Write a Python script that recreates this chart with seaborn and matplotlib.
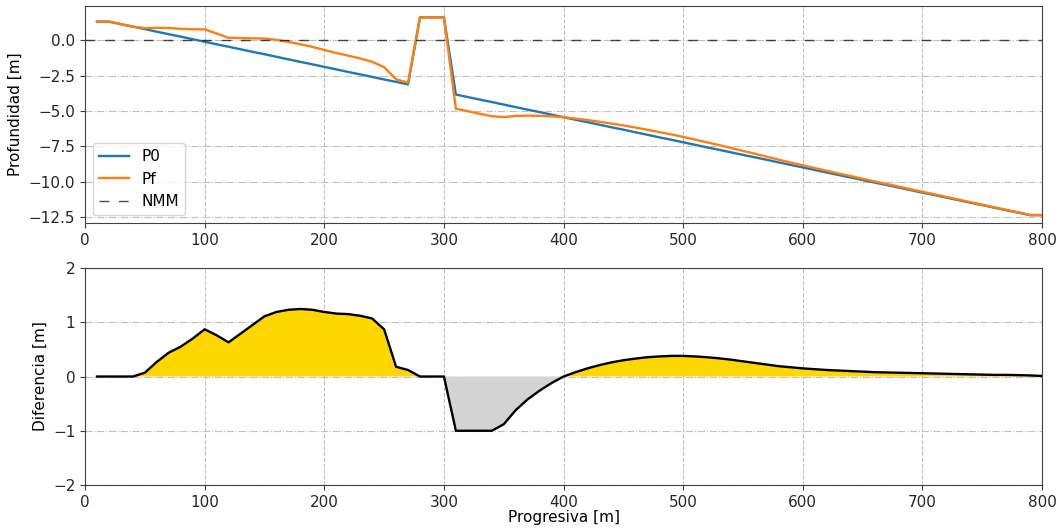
import numpy as np
import matplotlib
matplotlib.use("Agg")
import matplotlib.pyplot as plt
import seaborn as sns

# estaciones cada 10 m
progresiva = np.arange(10, 801, 10)

# perfil inicial P0
p0 = np.array([
    1.30, 1.30, 1.12, 0.95, 0.77, 0.59, 0.41, 0.24, 0.06, -0.12,
    -0.30, -0.47, -0.65, -0.83, -1.00, -1.18, -1.36, -1.54, -1.71, -1.89,
    -2.07, -2.25, -2.42, -2.60, -2.78, -2.95, -3.13, 1.60, 1.60, 1.60,
    -3.84, -4.02, -4.20, -4.37, -4.55, -4.73, -4.91, -5.08, -5.26, -5.44,
    -5.62, -5.79, -5.97, -6.15, -6.32, -6.50, -6.68, -6.86, -7.03, -7.21,
    -7.39, -7.57, -7.74, -7.92, -8.10, -8.27, -8.45, -8.63, -8.81, -8.98,
    -9.16, -9.34, -9.52, -9.69, -9.87, -10.05, -10.22, -10.40, -10.58, -10.76,
    -10.93, -11.11, -11.29, -11.47, -11.64, -11.82, -12.00, -12.17, -12.35, -12.35,
])

# diferencia Pf - P0
dif = np.array([
    0.0, 0.0, 0.0, 0.0, 0.07, 0.27, 0.44, 0.55, 0.70, 0.87,
    0.76, 0.63, 0.79, 0.95, 1.11, 1.19, 1.23, 1.245, 1.23, 1.19,
    1.16, 1.15, 1.12, 1.07, 0.87, 0.18, 0.12, 0.0, 0.0, 0.0,
    -1.0, -1.0, -1.0, -1.0, -0.88, -0.62, -0.42, -0.26, -0.12, 0.0,
    0.08, 0.15, 0.21, 0.26, 0.30, 0.33, 0.355, 0.37, 0.38, 0.38,
    0.37, 0.355, 0.335, 0.31, 0.28, 0.25, 0.22, 0.19, 0.17, 0.15,
    0.135, 0.12, 0.11, 0.10, 0.09, 0.08, 0.075, 0.07, 0.065, 0.06,
    0.055, 0.05, 0.045, 0.04, 0.035, 0.03, 0.03, 0.025, 0.02, 0.01,
])

# perfil final
pf = p0 + dif

plt.rcParams["font.size"] = 11
plt.rcParams["axes.edgecolor"] = "0.25"
plt.rcParams["xtick.color"] = "0.25"
plt.rcParams["ytick.color"] = "0.25"
plt.rcParams["xtick.labelcolor"] = "0.15"
plt.rcParams["ytick.labelcolor"] = "0.15"

fig = plt.figure(figsize=(10.59, 5.28), dpi=100)
ax1 = fig.add_axes([0.0803, 0.5777, 0.9037, 0.4109])
ax2 = fig.add_axes([0.0803, 0.0814, 0.9037, 0.4110])

# --- perfiles ---
sns.lineplot(x=progresiva, y=p0, ax=ax1, color="#1f77b4", lw=1.7, label="P0")
sns.lineplot(x=progresiva, y=pf, ax=ax1, color="#ff7f0e", lw=1.7, label="Pf")
ax1.axhline(0, color="k", alpha=0.7, lw=1, dashes=(7, 7), label="NMM")
ax1.set_xlim(0, 800)
ax1.set_ylim(-12.9, 2.4)
ax1.set_xticks(np.arange(0, 801, 100))
ax1.set_yticks([0, -2.5, -5, -7.5, -10, -12.5])
ax1.set_ylabel("Profundidad [m]")
ax1.legend(loc="lower left")

# --- diferencia ---
ax2.fill_between(progresiva, dif, 0, where=dif >= 0, interpolate=True, color="#FFD700", lw=0)
ax2.fill_between(progresiva, dif, 0, where=dif <= 0, interpolate=True, color="#D3D3D3", lw=0)
sns.lineplot(x=progresiva, y=dif, ax=ax2, color="k", lw=1.7)
ax2.set_xlim(0, 800)
ax2.set_ylim(-2, 2)
ax2.set_xticks(np.arange(0, 801, 100))
ax2.set_yticks([-2, -1, 0, 1, 2])
ax2.set_ylabel("Diferencia [m]")
ax2.set_xlabel("Progresiva [m]", labelpad=0)

for ax in (ax1, ax2):
    ax.grid(axis="x", linestyle="--", color="0.75", lw=0.8)
    ax.grid(axis="y", linestyle="-.", color="0.75", lw=0.8)
    ax.set_axisbelow(True)

fig.savefig("out.png", dpi=100)
